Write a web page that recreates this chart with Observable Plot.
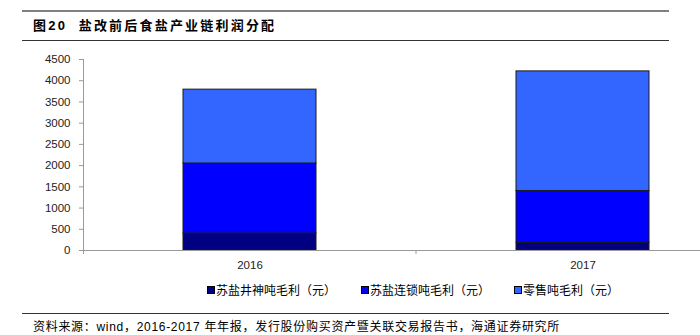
<!DOCTYPE html>
<html><head><meta charset="utf-8">
<script src="https://cdn.jsdelivr.net/npm/d3@7"></script>
<script src="https://cdn.jsdelivr.net/npm/@observablehq/plot@0.6"></script>
<style>
body{margin:0;overflow:hidden;background:#fff;}
#wrap{position:relative;width:700px;height:335px;background:#fff;overflow:hidden;font-family:"Liberation Sans","Noto Sans CJK SC",sans-serif;color:#000;}
.rule{position:absolute;left:22px;width:647px;z-index:2;}
#title{position:absolute;left:33px;top:17px;font-size:13px;line-height:18px;font-weight:bold;font-family:"Liberation Sans","Noto Sans CJK SC",sans-serif;letter-spacing:2.2px;white-space:pre;}
#chart{position:absolute;left:0;top:40px;}
#legend{position:absolute;left:0;top:282px;width:700px;height:16px;}
.item{position:absolute;top:0;font-size:12px;line-height:16px;white-space:nowrap;font-family:"Noto Sans CJK SC",sans-serif;}
.sw{display:inline-block;width:6px;height:6px;border:0.5px solid #000;margin-right:1px;vertical-align:1px;}
#caption{position:absolute;left:33px;top:318px;font-size:12px;line-height:18px;white-space:pre;letter-spacing:0.7px;}
</style></head><body>
<div id="wrap">
  <div class="rule" style="top:10px;height:2px;background:#808080"></div>
  <div id="title"></div>
  <div class="rule" style="top:40px;height:1px;background:#333"></div>
  <div id="chart"></div>
  <div id="legend"></div>
  <div class="rule" style="top:313px;height:1px;background:#333"></div>
  <div id="caption"></div>
</div>
<script>
const titleText = "图20  盐改前后食盐产业链利润分配";
const captionText = "资料来源：wind，2016-2017 年年报，发行股份购买资产暨关联交易报告书，海通证券研究所";
const years = ["2016", "2017"];
const seriesNames = ["苏盐井神吨毛利（元）", "苏盐连锁吨毛利（元）", "零售吨毛利（元）"];
const seriesColors = ["#000080", "#0000FF", "#3366FF"];
const jingshen = [400, 180];
const liansuo = [1650, 1220];
const lingshou = [1740, 2820];
const yTicks = [0, 500, 1000, 1500, 2000, 2500, 3000, 3500, 4000, 4500];
const legendX = [207, 361, 514];

document.getElementById("title").textContent = titleText;
document.getElementById("caption").textContent = captionText;

const seriesValues = [jingshen, liansuo, lingshou];
const rows = [];
years.forEach((yr, i) => {
  seriesNames.forEach((s, j) => rows.push({year: yr, series: s, value: seriesValues[j][i]}));
});

const xRange = [83, 749];
const step = (xRange[1] - xRange[0]) / years.length;

const chart = Plot.plot({
  width: 700,
  height: 232,
  marginLeft: 83,
  marginRight: 0,
  marginTop: 19,
  marginBottom: 22,
  style: {background: "none", fontFamily: "Liberation Sans, Arial, sans-serif", fontSize: "11.5px", color: "#222", overflow: "hidden"},
  x: {domain: years, range: xRange, paddingInner: 0.6, paddingOuter: 0.3, label: null},
  y: {domain: [0, 4500], label: null},
  color: {domain: seriesNames, range: seriesColors},
  marks: [
    Plot.barY(rows, {x: "year", y: "value", fill: "series", stroke: "#1a1a1a", strokeWidth: 1, order: null}),
    Plot.ruleY([0], {stroke: "#999", strokeWidth: 1}),
    Plot.axisY({ticks: yTicks, tickSize: 4, tickPadding: 9, stroke: "#999", label: null, tickFormat: d => String(d), fill: "#222"}),
    Plot.axisX({tickSize: 0, tickPadding: 10, label: null, fill: "#222"})
  ]
});
document.getElementById("chart").appendChild(chart);

// y axis line and category separator ticks, placed from the scales
const svg = d3.select(chart);
const ys = chart.scale("y");
const y0 = ys.apply(0), yTop = ys.apply(yTicks[yTicks.length - 1]);
const xs = chart.scale("x");
svg.append("line").attr("x1", xRange[0] + 0.5).attr("x2", xRange[0] + 0.5).attr("y1", yTop).attr("y2", y0).attr("stroke", "#999");
const sepX = xs.apply(years[1]) - (step - xs.bandwidth) / 2;
svg.append("line").attr("x1", sepX).attr("x2", sepX).attr("y1", y0).attr("y2", y0 + 4).attr("stroke", "#999");
svg.append("line").attr("x1", xRange[0] + 0.5).attr("x2", xRange[0] + 0.5).attr("y1", y0).attr("y2", y0 + 4).attr("stroke", "#999");

const legend = d3.select("#legend");
seriesNames.forEach((s, i) => {
  const it = legend.append("div").attr("class", "item").style("left", legendX[i] + "px");
  it.append("span").attr("class", "sw").style("background", seriesColors[i]);
  it.append("span").text(s);
});
</script>
</body></html>
